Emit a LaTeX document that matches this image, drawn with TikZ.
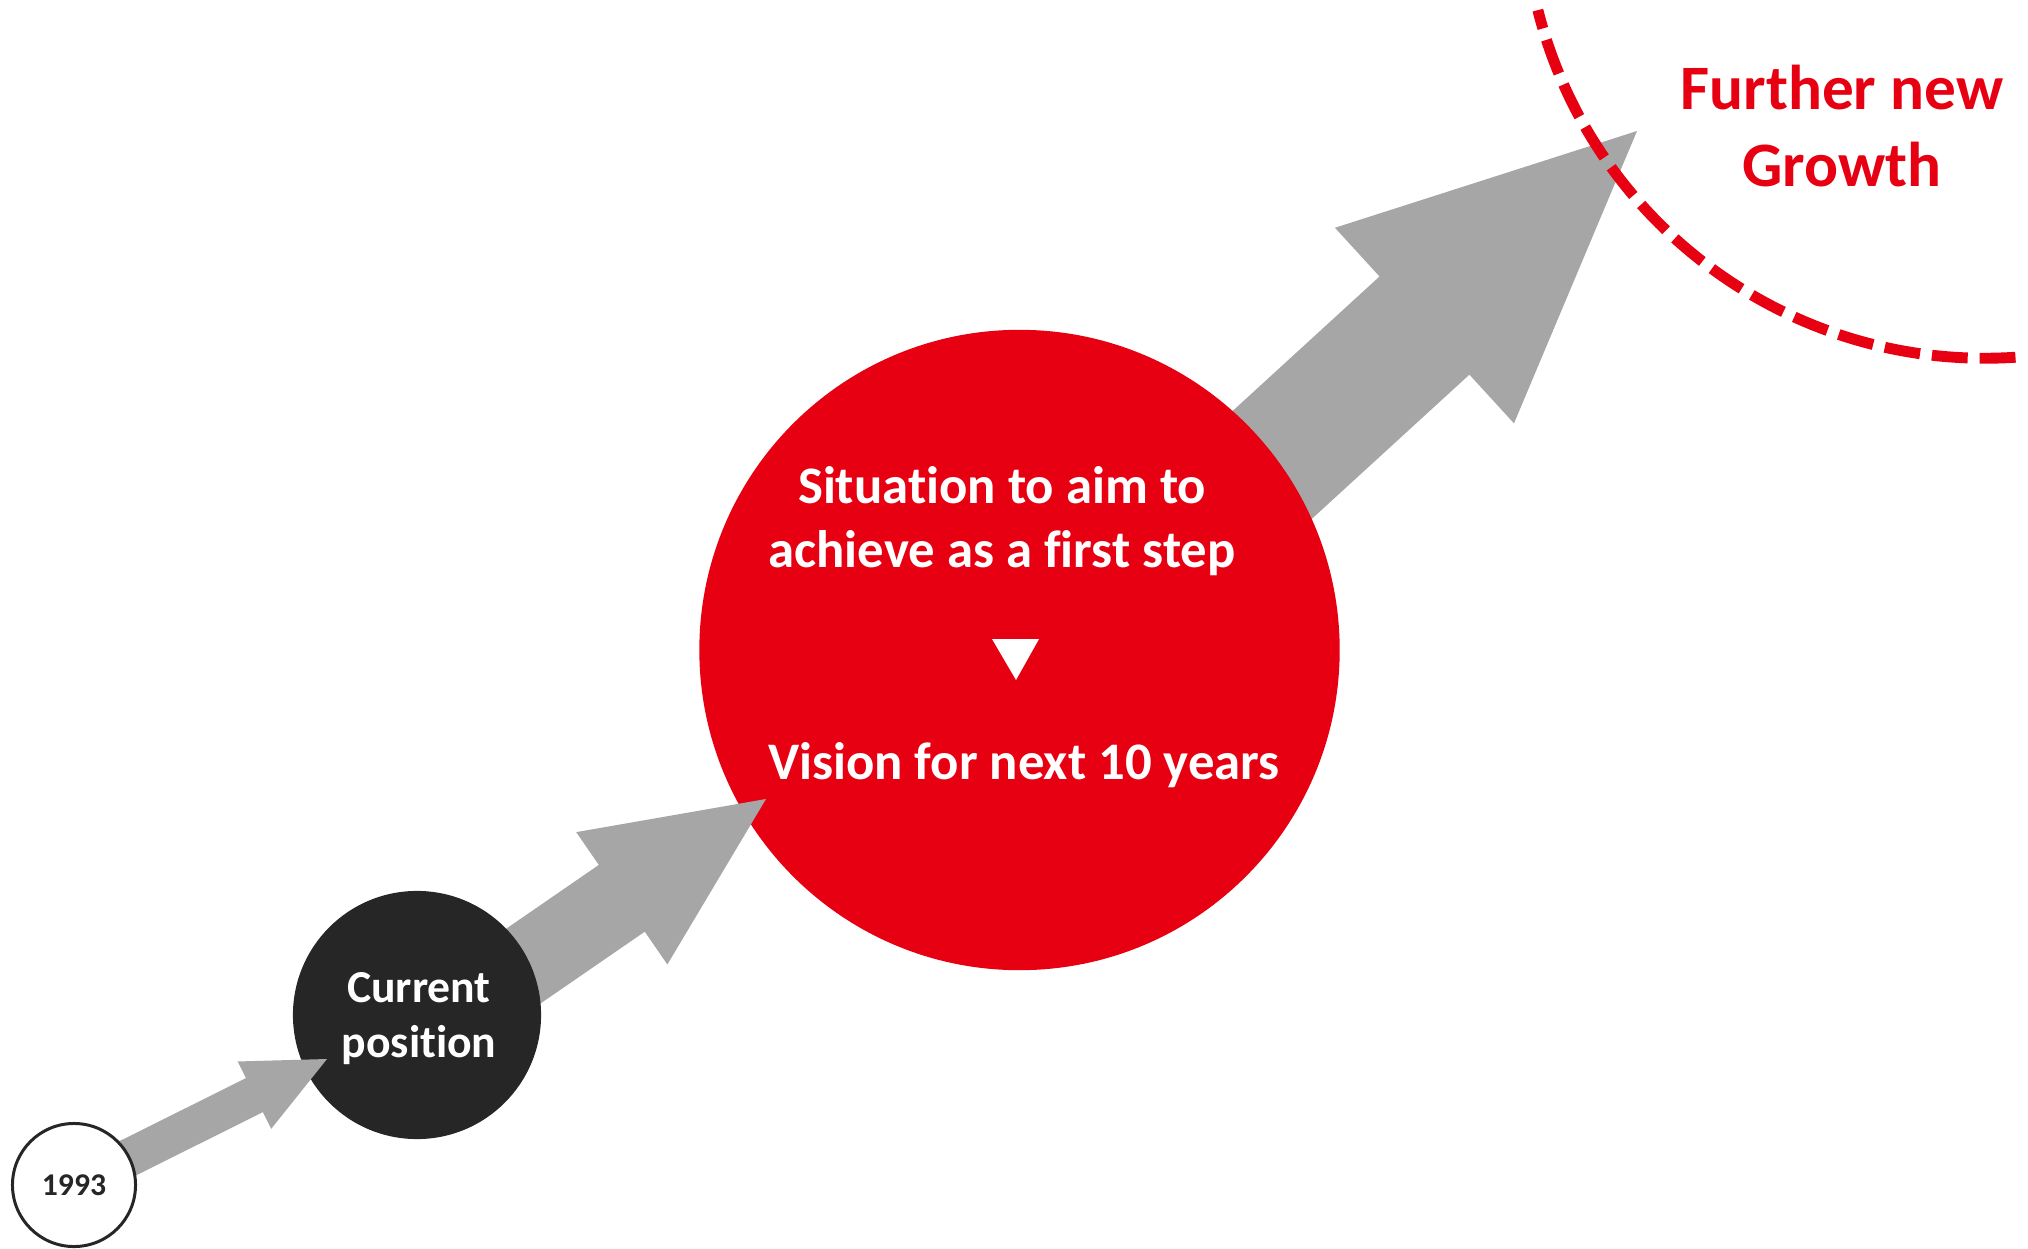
\documentclass[tikz,border=0pt]{standalone}
\usepackage{fontspec}
\setmainfont{Carlito}[Ligatures=NoCommon]
\usetikzlibrary{calc}

\definecolor{brandred}{RGB}{230,0,18}
\definecolor{arrowgrey}{RGB}{166,166,166}
\definecolor{darkdot}{RGB}{38,38,38}

\tikzset{
  yearcircle/.style={circle, draw=darkdot, line width=0.85pt, fill=white, minimum size=1.23cm, inner sep=0pt, text=darkdot, font=\fontsize{9}{11}\selectfont\bfseries},
  nowcircle/.style={circle, fill=darkdot, minimum size=2.48cm, inner sep=0pt},
  visioncircle/.style={circle, fill=brandred, minimum size=6.4cm, inner sep=0pt},
  whitetext/.style={text=white, align=center, inner sep=0pt, anchor=base},
  ringline/.style={brandred, line width=3.1pt, dash pattern=on 10.2pt off 3.4pt, dash phase=4.8pt},
}

% tail, tip, half shaft, half head, head length
\newcommand{\blockarrow}[5]{%
  \coordinate (#2-neck) at ($(#2)!#5!(#1)$);
  \fill[arrowgrey] ($(#1)!#3!90:(#2)$) -- ($(#2-neck)!#3!90:(#2)$) -- ($(#2-neck)!#4!90:(#2)$)
    -- (#2) -- ($(#2-neck)!#4!-90:(#2)$) -- ($(#2-neck)!#3!-90:(#2)$) -- ($(#1)!#3!-90:(#2)$) -- cycle;
}

\begin{document}
\begin{tikzpicture}[x=0.01cm, y=-0.01cm]
  \useasboundingbox (0,0) rectangle (2028,1249);
  \clip (0,0) rectangle (2028,1249);

  \coordinate (a1tail) at (74,1185);
  \coordinate (a1tip) at (327,1059);
  \coordinate (a2tail) at (416,1040);
  \coordinate (a2tip) at (766,799);
  \coordinate (a3tail) at (1129,596);
  \coordinate (a3tip) at (1637,131);
  \coordinate (ring) at (1985,-103);

  \blockarrow{a3tail}{a3tip}{0.665cm}{1.325cm}{2.88cm}
  \node[visioncircle] (vision) at (1019.5,650) {};
  \blockarrow{a2tail}{a2tip}{0.405cm}{0.803cm}{1.75cm}
  \node[nowcircle] (now) at (417,1015) {};
  \blockarrow{a1tail}{a1tip}{0.19cm}{0.376cm}{0.81cm}
  \node[yearcircle] (year) at (74,1185) {1993};

  \draw[ringline] ([shift={(194.2:4.61cm)}]ring) arc[start angle=194.2, end angle=274.4, radius=4.61cm];

  \node[whitetext, font=\fontsize{13}{15.6}\selectfont\bfseries] (nowlabel) at (419,1057) {Current\\position};
  \node[whitetext, font=\fontsize{15}{18}\selectfont\bfseries] (aimlabel) at (1002,567) {Situation to aim to\\achieve as a first step};
  \fill[white] (992,639) -- (1039,639) -- (1016,680) -- cycle;
  \node[whitetext, font=\fontsize{15}{18}\selectfont\bfseries] (visionlabel) at (1024,779) {Vision for next 10 years};
  \node[text=brandred, align=center, inner sep=0pt, anchor=base, font=\fontsize{18}{22}\selectfont\bfseries] (further) at (1842,187) {Further new\\Growth};
\end{tikzpicture}
\end{document}
